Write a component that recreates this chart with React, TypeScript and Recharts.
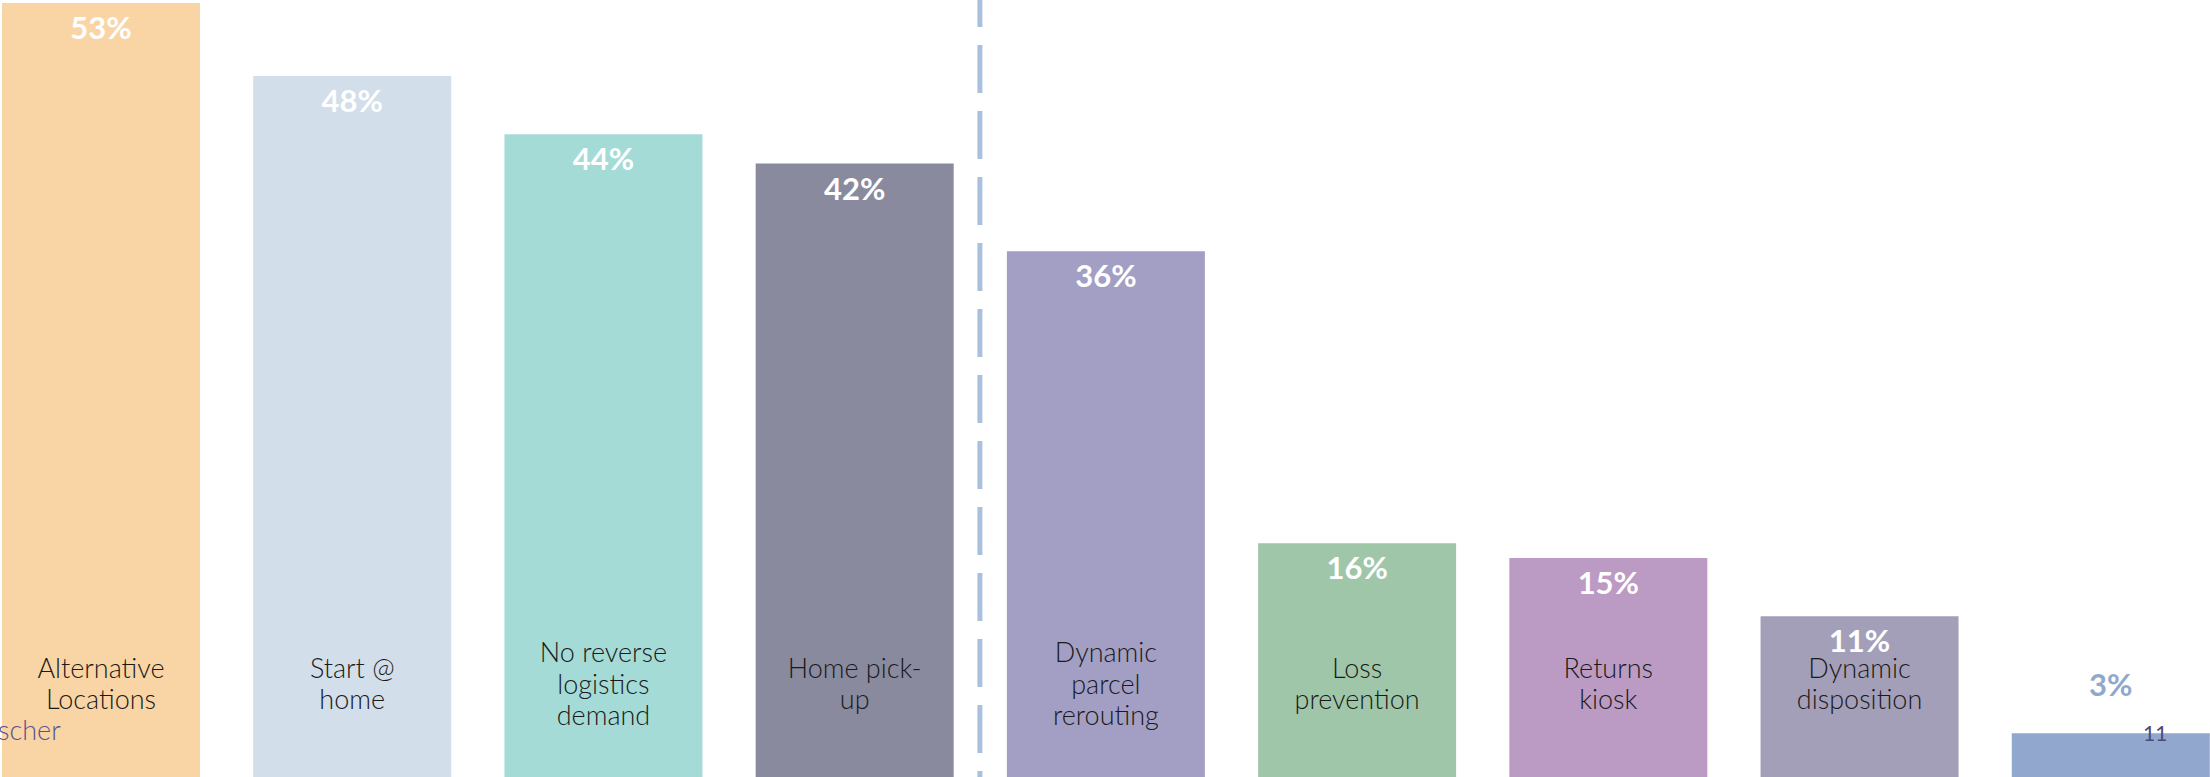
import React from "react";
import { BarChart, Bar, XAxis, YAxis, Cell, LabelList, ReferenceLine } from "recharts";

const categories = [
  "Alternative\nLocations",
  "Start @\nhome",
  "No reverse\nlogistics\ndemand",
  "Home pick-\nup",
  "Dynamic\nparcel\nrerouting",
  "Loss\nprevention",
  "Returns\nkiosk",
  "Dynamic\ndisposition",
  "",
];
const values = [53, 48, 44, 42, 36, 16, 15, 11, 3];
const palette = ["#F9D5A5", "#D2DEEA", "#A5DBD6", "#898A9E", "#A39FC4", "#A0C6AA", "#BB9BC3", "#A49FB9", "#91A7CD"];
const dividerAt = 3.5;

const data = values.map((v, i) => ({ idx: i, value: v, name: categories[i] }));

const W = 2261;
const H = 777;

function getBox(p: any) {
  const vb = p.viewBox && p.viewBox.width !== undefined ? p.viewBox : p;
  return { x: Number(vb.x), y: Number(vb.y), width: Number(vb.width), height: Number(vb.height) };
}

const ValueLabel = (p: any) => {
  const { x, y, width } = getBox(p);
  const v = Number(p.value);
  const inside = v >= 5;
  return (
    <text
      x={x + width / 2}
      y={inside ? y + 24 : y - 49}
      textAnchor="middle"
      dominantBaseline="central"
      fill={inside ? "#FFFFFF" : "#8FA8CE"}
      fontFamily="Lato, sans-serif"
      fontWeight={700}
      fontSize={31}
    >
      {v}%
    </text>
  );
};

const CategoryLabel = (p: any) => {
  const { x, y, width, height } = getBox(p);
  const lines = String(p.value || "").split("\n").filter((s) => s.length);
  if (!lines.length) return null;
  const lh = 31.5;
  const cy = y + height - 94;
  const start = cy - ((lines.length - 1) * lh) / 2;
  return (
    <text
      x={x + width / 2}
      textAnchor="middle"
      fill="#1A1A1A"
      fontFamily="Lato, sans-serif"
      fontWeight={300}
      fontSize={27}
    >
      {lines.map((l, i) => (
        <tspan key={i} x={x + width / 2} y={start + i * lh} dominantBaseline="central">
          {l}
        </tspan>
      ))}
    </text>
  );
};

export default function App() {
  return (
    <div style={{ position: "absolute", left: 0, top: 0, width: 2210, height: 777, overflow: "hidden", background: "#FFFFFF" }}>
      <div style={{ position: "absolute", left: -24.6, top: 0 }}>
        <BarChart width={W} height={H} data={data} margin={{ top: 0, right: 0, bottom: 0, left: 0 }}>
          <XAxis type="number" dataKey="idx" domain={[-0.5, 8.5]} hide />
          <YAxis type="number" domain={[0, 53.2]} hide />
          <Bar dataKey="value" barSize={198} isAnimationActive={false}>
            {data.map((d, i) => (
              <Cell key={i} fill={palette[i]} />
            ))}
            <LabelList dataKey="value" content={ValueLabel} />
            <LabelList dataKey="name" content={CategoryLabel} />
          </Bar>
          <ReferenceLine x={dividerAt} stroke="#A9C1DC" strokeWidth={5} strokeDasharray="48 18" strokeDashoffset={42} />
        </BarChart>
      </div>
      <div
        style={{
          position: "absolute",
          left: -2,
          top: 714,
          fontFamily: "Lato, sans-serif",
          fontWeight: 300,
          fontSize: 27,
          color: "#57548F",
          lineHeight: "32px",
        }}
      >
        scher
      </div>
      <div
        style={{
          position: "absolute",
          left: 2143,
          top: 720,
          fontFamily: "Lato, sans-serif",
          fontSize: 21,
          color: "#4B4A80",
          lineHeight: "26px",
        }}
      >
        11
      </div>
    </div>
  );
}
